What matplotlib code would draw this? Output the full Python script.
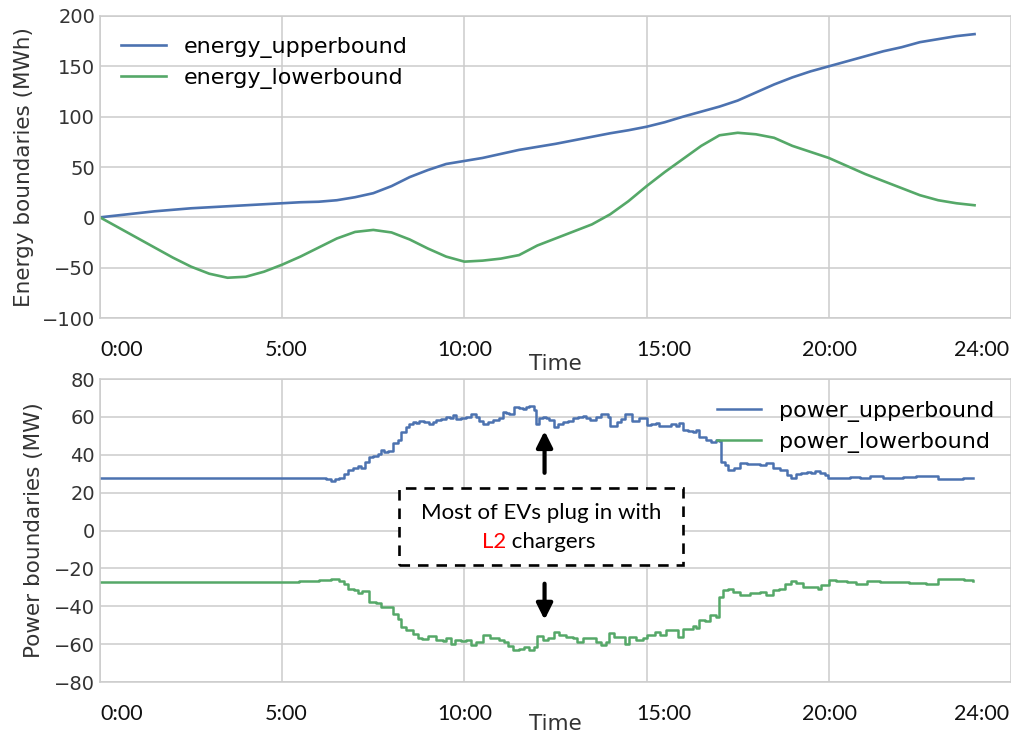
import matplotlib
matplotlib.use('Agg')
import matplotlib.pyplot as plt
from matplotlib.patches import Rectangle
from matplotlib.transforms import offset_copy

# energy envelope (hours, MWh)
energy_t = [0, 0.5, 1, 1.5, 2, 2.5, 3, 3.5, 4, 4.5, 5, 5.5, 6, 6.5, 7, 7.5, 8, 8.5,
            9, 9.5, 10, 10.5, 11, 11.5, 12, 12.5, 13, 13.5, 14, 14.5, 15, 15.5, 16,
            16.5, 17, 17.5, 18, 18.5, 19, 19.5, 20, 20.5, 21, 21.5, 22, 22.5, 23, 23.5, 24]
energy_upper = [0, 2, 4, 6, 7.5, 9, 10, 11, 12, 13, 14, 15, 15.5, 17, 20, 24, 31, 40,
                47, 53, 56, 59, 63, 67, 70, 73, 76.5, 80, 83.5, 86.5, 90, 94.5, 100,
                105, 110, 116, 124, 132, 139, 145, 150, 155, 160, 165, 169, 174, 177, 180, 182]
energy_lower = [0, -10, -20, -30, -40, -49, -56, -60, -59, -54, -47, -39, -30, -21, -14.5,
                -12.5, -15, -22, -31, -39, -44, -43, -41, -37.5, -28, -21, -14, -7, 3, 16,
                31, 45, 58, 71, 81.5, 84, 82.5, 79, 71, 65, 59, 51, 43, 36, 29, 22, 17, 14, 12]

# power envelope (hours, MW)
pu_t = [0, 1, 2, 3, 4, 5, 5.47, 5.93, 6.2, 6.34, 6.45, 6.57, 6.7, 6.8, 6.95, 7.07, 7.16,
        7.28, 7.39, 7.5, 7.62, 7.7, 7.8, 7.9, 8.03, 8.17, 8.26, 8.4, 8.49, 8.58, 8.67, 8.76,
        8.9, 9.04, 9.13, 9.22, 9.36, 9.5, 9.6, 9.68, 9.77, 9.9, 10.05, 10.18, 10.32, 10.41,
        10.5, 10.64, 10.78, 10.96, 11.05, 11.14, 11.23, 11.37, 11.5, 11.6, 11.69, 11.78,
        11.92, 11.97, 12.06, 12.15, 12.24, 12.33, 12.47, 12.56, 12.7, 12.84, 12.98, 13.12,
        13.25, 13.35, 13.44, 13.6, 13.75, 13.93, 14.0, 14.18, 14.3, 14.42, 14.6, 14.8, 15.0,
        15.13, 15.26, 15.35, 15.53, 15.67, 15.8, 15.9, 16.0, 16.13, 16.27, 16.36, 16.45,
        16.64, 16.77, 16.9, 17.0, 17.05, 17.15, 17.23, 17.4, 17.55, 17.75, 17.92, 18.1,
        18.29, 18.47, 18.66, 18.84, 18.97, 19.1, 19.25, 19.39, 19.5, 19.62, 19.75, 19.89,
        19.98, 20.3, 20.58, 20.85, 21.13, 21.5, 21.8, 22.04, 22.4, 22.68, 23.0, 23.42,
        23.69, 23.96]
power_upper = [27.6, 27.6, 27.8, 27.8, 27.8, 27.6, 28, 27.5, 27, 26.2, 27, 28, 30, 32, 33,
               34, 33, 36, 39, 39.5, 40.3, 42.4, 41.5, 42, 46, 47.7, 52, 54.8, 56.5, 57.5,
               57, 58, 57.5, 56.5, 57.5, 58.3, 59, 60, 59.5, 61, 59, 59.5, 60, 61.5, 60, 58,
               56.5, 57.5, 58.3, 59.5, 62.7, 62, 61.5, 65.3, 64.5, 64, 65, 65.6, 63.6, 56.5,
               59.2, 60, 59.5, 58.6, 54.8, 56.5, 57.4, 58, 59.2, 59.8, 60.4, 59.5, 58.6, 60,
               61.8, 60, 55, 57.4, 59, 61.5, 58, 59.3, 55.6, 56, 57, 55, 55, 56.5, 55.3, 57,
               53, 52.5, 52.2, 53, 49.5, 48, 46.8, 47.7, 47.5, 36.3, 34.5, 31.9, 33, 35.4, 35,
               35, 34.5, 35.4, 32.8, 32, 29.2, 27.5, 29.7, 30.5, 31, 30.5, 31.7, 30.5, 29.2,
               27.5, 28, 28.4, 28, 28.7, 27.8, 28, 28.4, 28.7, 28.7, 27, 27, 27.8, 27.8]

pl_t = [0, 1, 2, 3, 4, 5, 5.47, 6.0, 6.34, 6.57, 6.7, 6.8, 6.96, 7.07, 7.2, 7.39, 7.57, 7.7,
        7.88, 8.03, 8.17, 8.26, 8.4, 8.58, 8.72, 8.85, 8.99, 9.22, 9.4, 9.5, 9.63, 9.75, 9.91,
        10.05, 10.18, 10.32, 10.5, 10.69, 10.96, 11.1, 11.19, 11.33, 11.5, 11.64, 11.78,
        11.92, 11.99, 12.15, 12.3, 12.47, 12.6, 12.8, 12.98, 13.1, 13.25, 13.45, 13.6, 13.75,
        13.88, 13.98, 14.1, 14.25, 14.4, 14.53, 14.7, 14.9, 15.0, 15.22, 15.36, 15.54, 15.72,
        15.86, 16.0, 16.18, 16.27, 16.36, 16.45, 16.6, 16.73, 16.9, 16.98, 17.09, 17.23,
        17.38, 17.55, 17.83, 18.1, 18.29, 18.47, 18.62, 18.79, 18.97, 19.1, 19.3, 19.55,
        19.7, 19.8, 20.0, 20.2, 20.5, 20.75, 21.04, 21.4, 21.8, 22.2, 22.68, 22.95, 23.0,
        23.4, 23.7, 23.96]
power_lower = [-27.2, -27.2, -27.4, -27.4, -27.2, -27.0, -26.6, -26.3, -25.4, -26.6, -28.5,
               -30.7, -31.6, -33, -32, -37.7, -38.3, -40.4, -40.4, -43.9, -46.5, -51, -52.7,
               -54.4, -57, -57.3, -55.9, -57.6, -58.4, -57, -59.7, -57.8, -58.6, -57.6, -60.6,
               -58.8, -55.3, -57, -57.6, -59, -61.2, -62.9, -62.4, -61.5, -63.3, -61.5, -55.9,
               -57.6, -57, -53.6, -55, -56.2, -57, -58.7, -57, -57, -58.7, -60.6, -58.7, -54,
               -56, -56.2, -59.7, -56.2, -57.6, -57, -55.3, -53.6, -55.3, -52.7, -52.7, -56.2,
               -51.8, -51.8, -50.5, -51.5, -47.4, -47.6, -44.8, -45.6, -35.1, -31.6, -30.7,
               -32.4, -34.2, -33, -32.4, -33.8, -31.2, -30.7, -28.4, -26.6, -27.7, -29.8,
               -29.8, -30.7, -29, -26.3, -26.6, -27.2, -28, -26.6, -27.4, -27.2, -27.7, -28,
               -28, -25.7, -25.7, -26.3, -26.8]

tick_hours = [0, 5, 10, 15, 20, 24]
tick_names = ['0:00', '5:00', '10:00', '15:00', '20:00', '24:00']
tick_shift = [0, 4, 0, 17, 1, 7]  # pixel nudges of the hour labels

blue = '#4C72B0'
green = '#55A868'
grey = '#cccccc'

plt.rcParams['font.family'] = 'DejaVu Sans'
fig = plt.figure(figsize=(10.12, 7.37), dpi=100)
ax1 = fig.add_axes([0.0988, 0.5685, 0.9002, 0.4098])
ax2 = fig.add_axes([0.0988, 0.0746, 0.9002, 0.4111])


def style_axes(ax, ylabel, ylabel_x, xlabel_y):
    ax.set_xlim(0, 25)
    ax.grid(True, color=grey, lw=1.1)
    ax.set_axisbelow(True)
    for s in ax.spines.values():
        s.set_color(grey)
        s.set_linewidth(1.1)
    ax.tick_params(length=0, labelsize=14, colors='#333333')
    ax.tick_params(axis='x', pad=16)
    ax.set_xticks(tick_hours)
    ax.set_xticklabels(tick_names, fontsize=15.5, family='Lato', color='#111111')
    ax.get_xgridlines()[-1].set_visible(False)
    labels = ax.get_xticklabels()
    labels[0].set_horizontalalignment('left')
    for lab, dx in zip(labels, tick_shift):
        lab.set_transform(offset_copy(lab.get_transform(), fig=fig, x=dx * 0.72, units='points'))
    ax.set_ylabel(ylabel, fontsize=15.5, color='#333333')
    ax.yaxis.set_label_coords(ylabel_x, 0.5)
    ax.set_xlabel('Time', fontsize=15.5, color='#333333')
    ax.xaxis.set_label_coords(0.5, xlabel_y)


# energy panel
ax1.plot(energy_t, energy_upper, color=blue, lw=1.9, label='energy_upperbound')
ax1.plot(energy_t, energy_lower, color=green, lw=1.9, label='energy_lowerbound')
ax1.set_ylim(-100, 200)
ax1.set_yticks([-100, -50, 0, 50, 100, 150, 200])
style_axes(ax1, 'Energy boundaries (MWh)', -0.072, -0.118)
ax1.legend(loc='upper left', frameon=False, fontsize=16, handlelength=2.0,
           handletextpad=0.8, labelspacing=0.45, borderaxespad=0.55,
           bbox_to_anchor=(0.0, 1.0))

# power panel
ax2.plot(pu_t, power_upper, color=blue, lw=1.8, drawstyle='steps-post', label='power_upperbound')
ax2.plot(pl_t, power_lower, color=green, lw=1.8, drawstyle='steps-post', label='power_lowerbound')
ax2.set_ylim(-80, 80)
ax2.set_yticks([-80, -60, -40, -20, 0, 20, 40, 60, 80])
style_axes(ax2, 'Power boundaries (MW)', -0.061, -0.105)
ax2.legend(loc='upper right', frameon=False, fontsize=16, handlelength=2.0,
           handletextpad=0.8, labelspacing=0.45, borderaxespad=0.35,
           bbox_to_anchor=(1.0, 0.983))

# annotation: dashed note box with arrows to both envelopes
ax2.add_patch(Rectangle((8.2, -18.3), 7.8, 40.7, facecolor='white', edgecolor='black',
                        lw=1.9, ls=(0, (4, 3)), zorder=3))
ax2.text(12.1, 9.5, 'Most of EVs plug in with', ha='center', va='center',
         fontsize=16, family='Lato', color='black', zorder=4)
l2 = ax2.text(11.15, -6.0, 'L2', ha='right', va='center', fontsize=16,
              family='Lato', color='red', zorder=4)
ax2.annotate(' chargers', xy=(1, 0), xycoords=l2, ha='left', va='bottom',
             fontsize=16, family='Lato', color='black', zorder=4)
ax2.annotate('', xy=(12.2, 54), xytext=(12.2, 29),
             arrowprops=dict(arrowstyle='-|>', color='black', lw=3, mutation_scale=24))
ax2.annotate('', xy=(12.2, -48.6), xytext=(12.2, -26.6),
             arrowprops=dict(arrowstyle='-|>', color='black', lw=3, mutation_scale=24))

fig.savefig('out.png', dpi=100)
